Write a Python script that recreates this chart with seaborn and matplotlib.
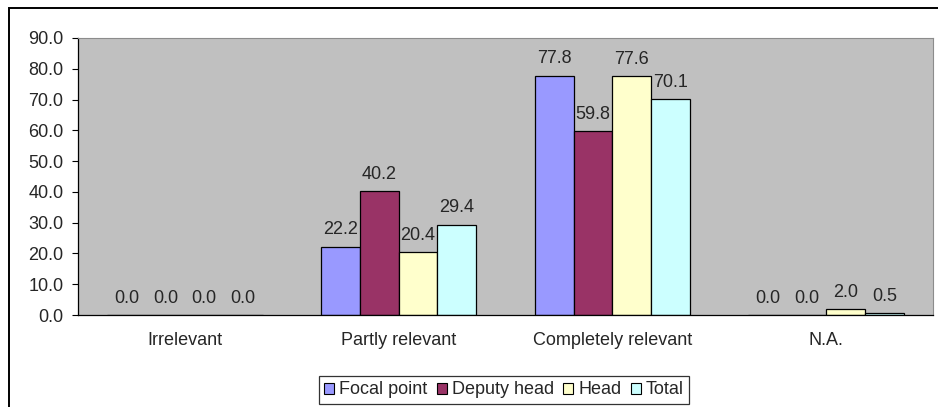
import matplotlib
matplotlib.use("Agg")
import matplotlib.pyplot as plt
import seaborn as sns
import pandas as pd
import numpy as np
from matplotlib.patches import Rectangle

categories = ["Irrelevant", "Partly relevant", "Completely relevant", "N.A."]
groups = ["Focal point", "Deputy head", "Head", "Total"]
focal_point = [0.0, 22.2, 77.8, 0.0]
deputy_head = [0.0, 40.2, 59.8, 0.0]
head = [0.0, 20.4, 77.6, 2.0]
total = [0.0, 29.4, 70.1, 0.5]
colors = ["#9999FF", "#993366", "#FFFFCC", "#CCFFFF"]

df = pd.DataFrame({
    "category": categories * 4,
    "group": [g for g in groups for _ in categories],
    "value": focal_point + deputy_head + head + total,
})

sns.set_style("white")
plt.rcParams["font.family"] = ["Liberation Sans", "DejaVu Sans"]
fs = 13

fig = plt.figure(figsize=(9.38, 4.07), dpi=100)
ax = fig.add_axes([78 / 938, 1 - 315 / 407, 855 / 938, 277 / 407])

sns.barplot(data=df, x="category", y="value", hue="group", order=categories,
            hue_order=groups, palette=colors, width=4 / 5.5, edgecolor="black",
            linewidth=0.9, saturation=1, ax=ax, legend=False)

ax.set_facecolor("#C0C0C0")
ax.set_ylim(0, 90)
ax.set_xlim(-0.5, 3.5)
ax.set_yticks(np.arange(0, 91, 10))
ax.set_yticklabels([f"{v:.1f}" for v in np.arange(0, 91, 10)], fontsize=fs)
ax.set_xticks(range(4))
ax.set_xticklabels(categories, fontsize=fs)
ax.set_xticks(np.arange(-0.5, 4, 1), minor=True)
ax.tick_params(axis="x", which="major", length=0, pad=12)
ax.tick_params(axis="x", which="minor", length=4, width=0.8, color="black", direction="out")
ax.tick_params(axis="y", length=4.5, width=0.8, color="black", direction="out", left=True, pad=6)
ax.set_xlabel("")
ax.set_ylabel("")
for s in ["top", "right"]:
    ax.spines[s].set_color("#8C8C8C")
    ax.spines[s].set_linewidth(0.8)
for s in ["left", "bottom"]:
    ax.spines[s].set_color("black")
    ax.spines[s].set_linewidth(0.9)

for cont in ax.containers:
    ax.bar_label(cont, fmt="%.1f", padding=6, fontsize=fs)

# outer frame (right and bottom edges fall outside the picture)
fig.patches.append(Rectangle((9 / 938, -0.05), 1.0, 1 - 8 / 407 + 0.05,
                             transform=fig.transFigure, fill=False,
                             edgecolor="black", linewidth=1.4))

handles = [Rectangle((0, 0), 1, 1, facecolor=c, edgecolor="black", linewidth=0.8) for c in colors]
leg = fig.legend(handles, groups, loc="center", bbox_to_anchor=(504 / 938, 1 - 390 / 407),
                 ncol=4, fontsize=fs, frameon=True, fancybox=False, handlelength=0.55,
                 handleheight=0.55, handletextpad=0.3, columnspacing=0.5, borderpad=0.3,
                 borderaxespad=0)
leg.get_frame().set_edgecolor("black")
leg.get_frame().set_linewidth(0.9)

fig.savefig("out.png", dpi=100, facecolor="white")
